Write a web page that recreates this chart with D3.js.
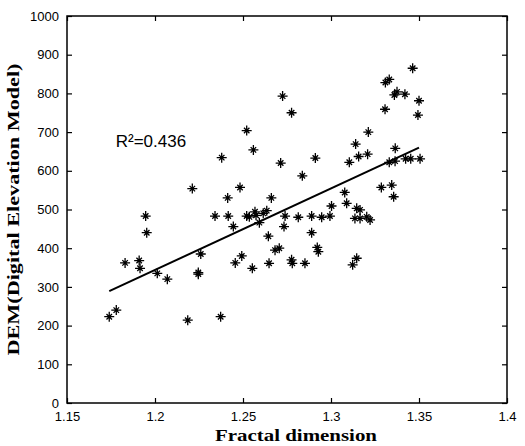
<!DOCTYPE html>
<html>
<head>
<meta charset="utf-8">
<script src="https://cdn.jsdelivr.net/npm/d3@7"></script>
<style>
  body { margin: 0; background: #fff; }
</style>
</head>
<body>
<div id="chart-area"></div>
<script>
// fractal dimension vs DEM
const fractal = [1.174,1.178,1.183,1.191,1.1915,1.1947,1.1953,1.2013,1.207,1.2186,1.2212,1.2246,1.2246,1.226,1.2341,1.2373,1.2379,1.2413,1.2416,1.2445,1.2456,1.2483,1.2493,1.2521,1.2521,1.2536,1.2553,1.2559,1.2568,1.2574,1.2593,1.2615,1.2635,1.2644,1.2648,1.2661,1.2682,1.2706,1.2714,1.2725,1.2733,1.2739,1.2776,1.2776,1.278,1.2814,1.2837,1.2852,1.289,1.289,1.2911,1.2922,1.2928,1.2947,1.2994,1.3003,1.3078,1.3089,1.3104,1.3123,1.3136,1.314,1.3146,1.3146,1.3157,1.3165,1.3165,1.3203,1.3208,1.3212,1.3222,1.3286,1.3307,1.3309,1.3331,1.3331,1.3345,1.3356,1.336,1.3364,1.3365,1.3375,1.342,1.3424,1.3453,1.3464,1.3494,1.35,1.3506];
const dem = [223,240,362,368,348,483,440,335,320,214,554,337,333,385,483,223,634,530,483,456,362,557,380,704,483,481,348,654,494,485,466,490,497,431,361,530,395,400,620,793,456,483,750,370,361,480,587,361,483,440,633,402,391,480,483,509,544,516,622,357,477,669,503,374,637,499,477,481,643,700,473,557,759,828,836,622,563,533,796,625,658,804,798,631,631,865,744,781,631];

// fitted line end points
const fitX = [1.174, 1.35];
const fitY = [289, 660];

const xTicks = [1.15, 1.2, 1.25, 1.3, 1.35, 1.4];
const yTicks = [0, 100, 200, 300, 400, 500, 600, 700, 800, 900, 1000];

const MARGIN = { LEFT: 67, RIGHT: 18, TOP: 16, BOTTOM: 43 };
const WIDTH = 525 - MARGIN.LEFT - MARGIN.RIGHT;
const HEIGHT = 446 - MARGIN.TOP - MARGIN.BOTTOM;

const svg = d3.select('#chart-area')
  .append('svg')
  .attr('width', 525)
  .attr('height', 446)

const g = svg.append('g')
  .attr('transform', `translate(${MARGIN.LEFT},${MARGIN.TOP})`)

const x = d3.scaleLinear().domain([1.15, 1.4]).range([0, WIDTH])
const y = d3.scaleLinear().domain([0, 1000]).range([HEIGHT, 0])

// matlab style: ticks inside on all four sides
const fmt = d => String(d)
const axes = [
  { call: d3.axisBottom(x).tickValues(xTicks).tickFormat(fmt).tickSizeInner(-5).tickSizeOuter(0).tickPadding(9), t: `translate(0,${HEIGHT})` },
  { call: d3.axisTop(x).tickValues(xTicks).tickFormat('').tickSizeInner(-5).tickSizeOuter(0), t: 'translate(0,0)' },
  { call: d3.axisLeft(y).tickValues(yTicks).tickFormat(fmt).tickSizeInner(-5).tickSizeOuter(0).tickPadding(8), t: 'translate(0,0)' },
  { call: d3.axisRight(y).tickValues(yTicks).tickFormat('').tickSizeInner(-5).tickSizeOuter(0), t: `translate(${WIDTH},0)` }
]
axes.forEach(a => {
  const ag = g.append('g').attr('transform', a.t).call(a.call)
  ag.select('.domain').remove()
  ag.selectAll('line').attr('stroke', '#000').attr('stroke-width', 1.2)
  ag.selectAll('text')
    .attr('font-family', 'Liberation Sans, Arial, sans-serif')
    .attr('font-size', '13px')
    .attr('fill', '#000')
})

g.append('rect')
  .attr('width', WIDTH)
  .attr('height', HEIGHT)
  .attr('fill', 'none')
  .attr('stroke', '#000')
  .attr('stroke-width', 1.5)

// asterisk marker: plus with a smaller x
const star = {
  draw(ctx, size) {
    const r = Math.sqrt(size) / 2, s = r * 0.55
    ctx.moveTo(-r, 0); ctx.lineTo(r, 0)
    ctx.moveTo(0, -r); ctx.lineTo(0, r)
    ctx.moveTo(-s, -s); ctx.lineTo(s, s)
    ctx.moveTo(-s, s); ctx.lineTo(s, -s)
  }
}

const pts = fractal.map((f, i) => ({ f: f, v: dem[i] }))

g.selectAll('path.pt').data(pts)
  .enter().append('path')
  .attr('class', 'pt')
  .attr('transform', d => `translate(${x(d.f)},${y(d.v)})`)
  .attr('d', d3.symbol().type(star).size(100))
  .attr('stroke', '#000')
  .attr('stroke-width', 1.3)
  .attr('fill', 'none')

const fit = fitX.map((f, i) => [x(f), y(fitY[i])])
g.append('path')
  .attr('d', d3.line()(fit))
  .attr('stroke', '#000')
  .attr('stroke-width', 2)
  .attr('fill', 'none')

g.append('text')
  .attr('x', x(1.1777))
  .attr('y', y(661))
  .attr('font-family', 'Liberation Sans, Arial, sans-serif')
  .attr('font-size', '17px')
  .text('R²=0.436')

// labels
g.append('text')
  .attr('x', 229)
  .attr('y', HEIGHT + 38)
  .attr('text-anchor', 'middle')
  .attr('font-family', 'Liberation Serif, Times New Roman, serif')
  .attr('font-weight', 'bold')
  .attr('font-size', '17px')
  .attr('textLength', 162)
  .attr('lengthAdjust', 'spacingAndGlyphs')
  .text('Fractal dimension')

g.append('text')
  .attr('transform', 'rotate(-90)')
  .attr('x', -(HEIGHT / 2))
  .attr('y', -48)
  .attr('text-anchor', 'middle')
  .attr('font-family', 'Liberation Serif, Times New Roman, serif')
  .attr('font-weight', 'bold')
  .attr('font-size', '17px')
  .attr('textLength', 292)
  .attr('lengthAdjust', 'spacingAndGlyphs')
  .text('DEM(Digital Elevation Model)')
</script>
</body>
</html>
